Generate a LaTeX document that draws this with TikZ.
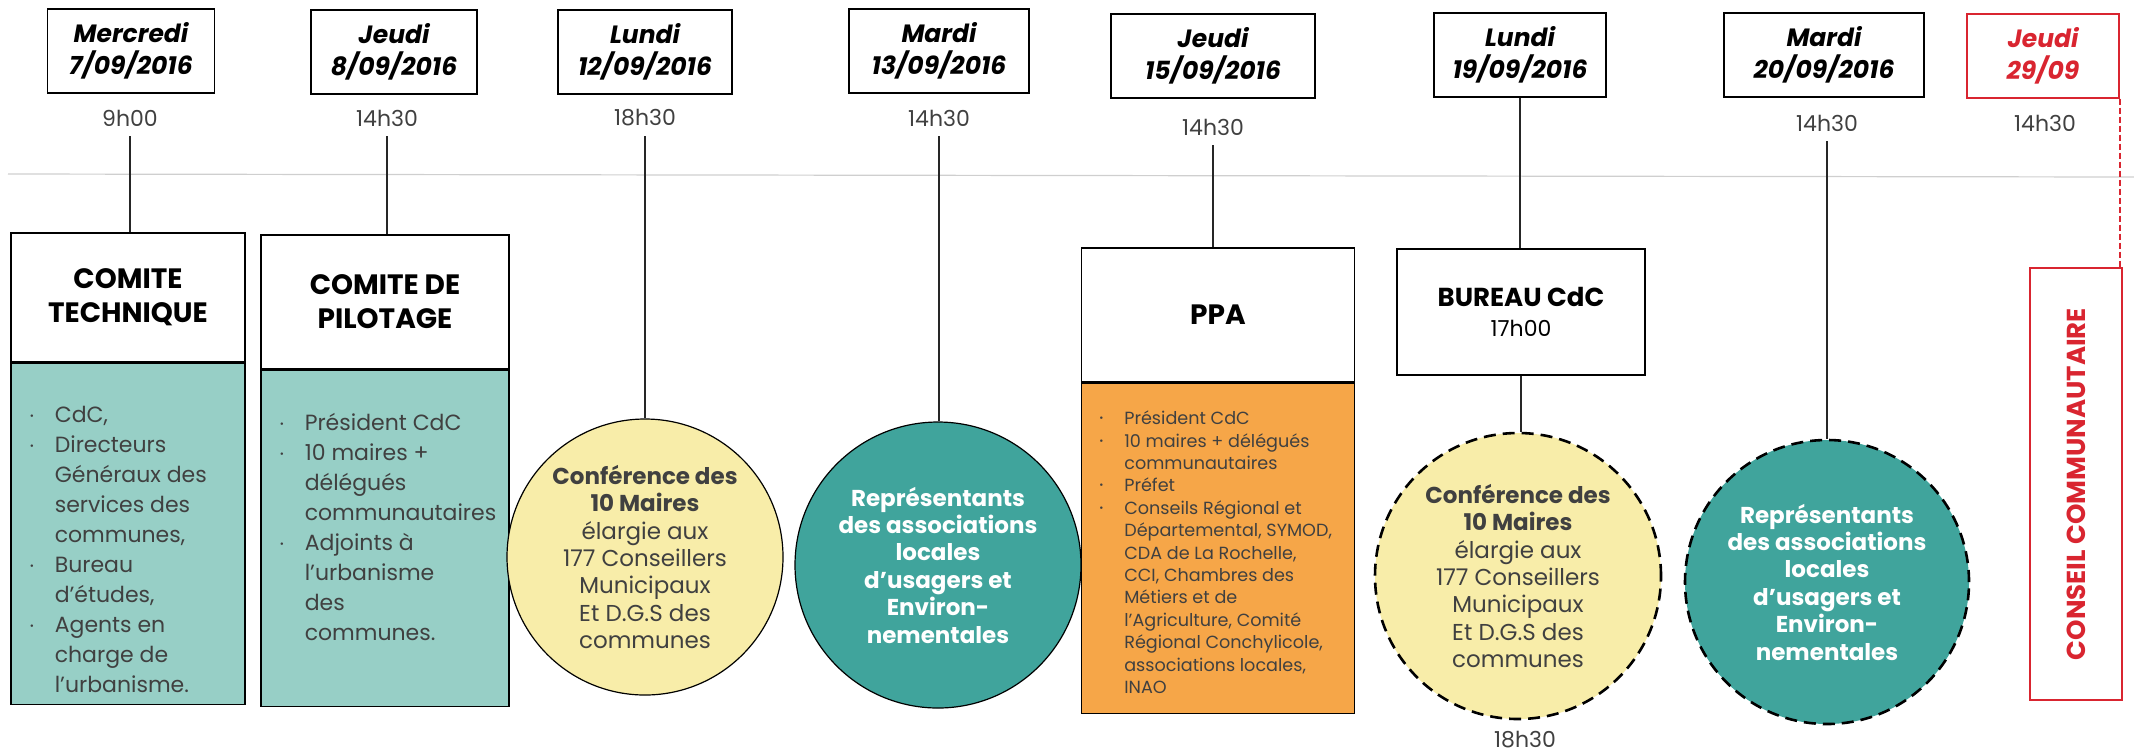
\documentclass[tikz,border=0pt]{standalone}
\usepackage{fontspec}
\setmainfont{Poppins}
\usetikzlibrary{positioning}
\definecolor{tealclair}{HTML}{97CFC6}
\definecolor{tealfonce}{HTML}{40A49C}
\definecolor{jaunepale}{HTML}{F8EDA9}
\definecolor{orangeppa}{HTML}{F6A648}
\definecolor{rougecc}{HTML}{D92530}
\definecolor{gristexte}{HTML}{404040}
\definecolor{grisaxe}{HTML}{CFCFCF}
\newcommand\puce{\makebox[12.5pt][l]{\raisebox{1.5pt}{\fontsize{5}{5}\selectfont\textbullet}}}
\newcommand\suite{\hspace*{12.5pt}}
\tikzset{
jour/.style={
  rectangle,
  draw=black,
  line width=0.7pt,
  fill=white,
  inner sep=0pt,
  minimum height=42pt,
  align=center,
  font=\fontsize{12.5}{16}\selectfont\bfseries\itshape
  },
heure/.style={
  inner sep=0pt,
  outer sep=5pt,
  text=gristexte,
  font=\fontsize{11}{13}\selectfont
  },
tete/.style={
  rectangle,
  draw=black,
  line width=0.6pt,
  fill=white,
  inner sep=0pt,
  align=center,
  font=\fontsize{14}{17}\selectfont\bfseries
  },
corps/.style={
  rectangle,
  draw=black,
  line width=0.6pt,
  fill=tealclair,
  inner sep=0pt
  },
liste/.style={
  inner sep=0pt,
  align=left,
  anchor=north west,
  text=gristexte,
  font=\fontsize{11}{15}\selectfont
  },
rond/.style={
  circle,
  draw=black,
  line width=0.6pt,
  inner sep=0pt,
  align=center,
  text=gristexte,
  font=\fontsize{11.5}{13.7}\selectfont
  },
tirets/.style={line width=1.3pt,dash pattern=on 6pt off 3.5pt},
lien/.style={-,line width=0.6pt,draw=black!85},
renvoi/.style={-,line width=1.2pt,draw=rougecc,dash pattern=on 3pt off 1.5pt}
}
\begin{document}
\begin{tikzpicture}[x=0.5pt,y=-0.5pt]
  \useasboundingbox (0,0) rectangle (2134,752);
  \draw[grisaxe,line width=0.6pt] (8,174) -- (2134,177);

  \node[jour,minimum width=83.5pt] (d1) at (131,51) {Mercredi\\7/09/2016};
  \node[jour,minimum width=83pt] (d2) at (394,52) {Jeudi\\8/09/2016};
  \node[jour,minimum width=87pt] (d3) at (645,52) {Lundi\\12/09/2016};
  \node[jour,minimum width=90pt] (d4) at (939,51) {Mardi\\13/09/2016};
  \node[jour,minimum width=102pt] (d5) at (1213,56) {Jeudi\\15/09/2016};
  \node[jour,minimum width=86pt] (d6) at (1520,55) {Lundi\\19/09/2016};
  \node[jour,minimum width=100pt] (d7) at (1824,55) {Mardi\\20/09/2016};
  \node[jour,draw=rougecc,text=rougecc,minimum width=76pt] (d8) at (2043,56) {Jeudi\\29/09};

  \node[heure] (t1) at (130,118) {9h00};
  \node[heure] (t2) at (387,118) {14h30};
  \node[heure] (t3) at (645,118) {18h30};
  \node[heure] (t4) at (939,118) {14h30};
  \node[heure] (t5) at (1213,127) {14h30};
  \node[heure] (t7) at (1827,123) {14h30};
  \node[heure] (t8) at (2045,123) {14h30};

  \node[tete,minimum width=117pt,minimum height=64.5pt] (h1) at (128,297.5) {COMITE\\TECHNIQUE};
  \node[corps,minimum width=117pt,minimum height=170.5pt] (b1) [below=0pt of h1] {};
  \node[liste] (l1) [below right=21.5pt and 9.5pt of h1.south west] {\puce CdC,\\
    \puce Directeurs\\ \suite Généraux des\\ \suite services des\\ \suite communes,\\
    \puce Bureau\\ \suite d’études,\\
    \puce Agents en\\ \suite charge de\\ \suite l’urbanisme.};

  \node[tete,minimum width=124pt,minimum height=67pt] (h2) at (385,302) {COMITE DE\\PILOTAGE};
  \node[corps,minimum width=124pt,minimum height=168pt] (b2) [below=0pt of h2] {};
  \node[liste] (l2) [below right=21.5pt and 9.5pt of h2.south west] {\puce Président CdC\\
    \puce 10 maires +\\ \suite délégués\\ \suite communautaires\\
    \puce Adjoints à\\ \suite l’urbanisme\\ \suite des\\ \suite communes.};

  \node[rond,fill=jaunepale,minimum size=138pt] (c1) at (645,557)
    {\textbf{Conférence des}\\\textbf{10 Maires}\\élargie aux\\177 Conseillers\\Municipaux\\Et D.G.S des\\communes};
  \node[rond,fill=tealfonce,text=white,font=\fontsize{11.5}{13.7}\selectfont\bfseries,minimum size=143pt] (c2) at (938,565)
    {Représentants\\des associations\\locales\\d’usagers et\\Environ-\\nementales};

  \node[tete,minimum width=136.5pt,minimum height=67pt] (h5) at (1218,315) {PPA};
  \node[corps,fill=orangeppa,minimum width=136.5pt,minimum height=165pt] (b5) [below=0pt of h5] {};
  \node[liste,font=\fontsize{8.8}{11.2}\selectfont] (l5) [below right=14pt and 9pt of h5.south west] {\puce Président CdC\\
    \puce 10 maires + délégués\\ \suite communautaires\\
    \puce Préfet\\
    \puce Conseils Régional et\\ \suite Départemental, SYMOD,\\ \suite CDA de La Rochelle,\\
    \suite CCI, Chambres des\\ \suite Métiers et de\\ \suite l’Agriculture, Comité\\
    \suite Régional Conchylicole,\\ \suite associations locales,\\ \suite INAO};

  \node[tete,minimum width=124pt,minimum height=63pt,font=\fontsize{13}{15}\selectfont\bfseries] (h6) at (1521,312)
    {BUREAU CdC\\{\normalfont\fontsize{11}{13}\selectfont 17h00}};
  \node[rond,tirets,fill=jaunepale,minimum size=143pt] (c3) at (1518,576)
    {\textbf{Conférence des}\\\textbf{10 Maires}\\élargie aux\\177 Conseillers\\Municipaux\\Et D.G.S des\\communes};
  \node[heure] (t6) at (1525,740) {18h30};

  \node[rond,tirets,fill=tealfonce,text=white,font=\fontsize{11.5}{13.7}\selectfont\bfseries,minimum size=142pt] (c4) at (1827,582)
    {Représentants\\des associations\\locales\\d’usagers et\\Environ-\\nementales};

  \node[draw=rougecc,line width=0.7pt,fill=white,rotate=90,inner sep=0pt,minimum width=216pt,minimum height=46pt,
    text=rougecc,font=\fontsize{13}{15}\selectfont\bfseries] (cc) at (2076,484) {CONSEIL COMMUNAUTAIRE};

  \draw[lien] (t1) -- (t1 |- h1.north);
  \draw[lien] (t2) -- (t2 |- h2.north);
  \draw[lien] (t3) -- (t3 |- c1.north);
  \draw[lien] (t4) -- (t4 |- c2.north);
  \draw[lien] (t5) -- (t5 |- h5.north);
  \draw[lien] (d6) -- (d6 |- h6.north);
  \draw[lien] (h6) -- (h6 |- c3.north);
  \draw[lien] (t7) -- (t7 |- c4.north);
  \draw[renvoi] (d8.south east) -- (d8.south east |- cc.east);
\end{tikzpicture}
\end{document}
